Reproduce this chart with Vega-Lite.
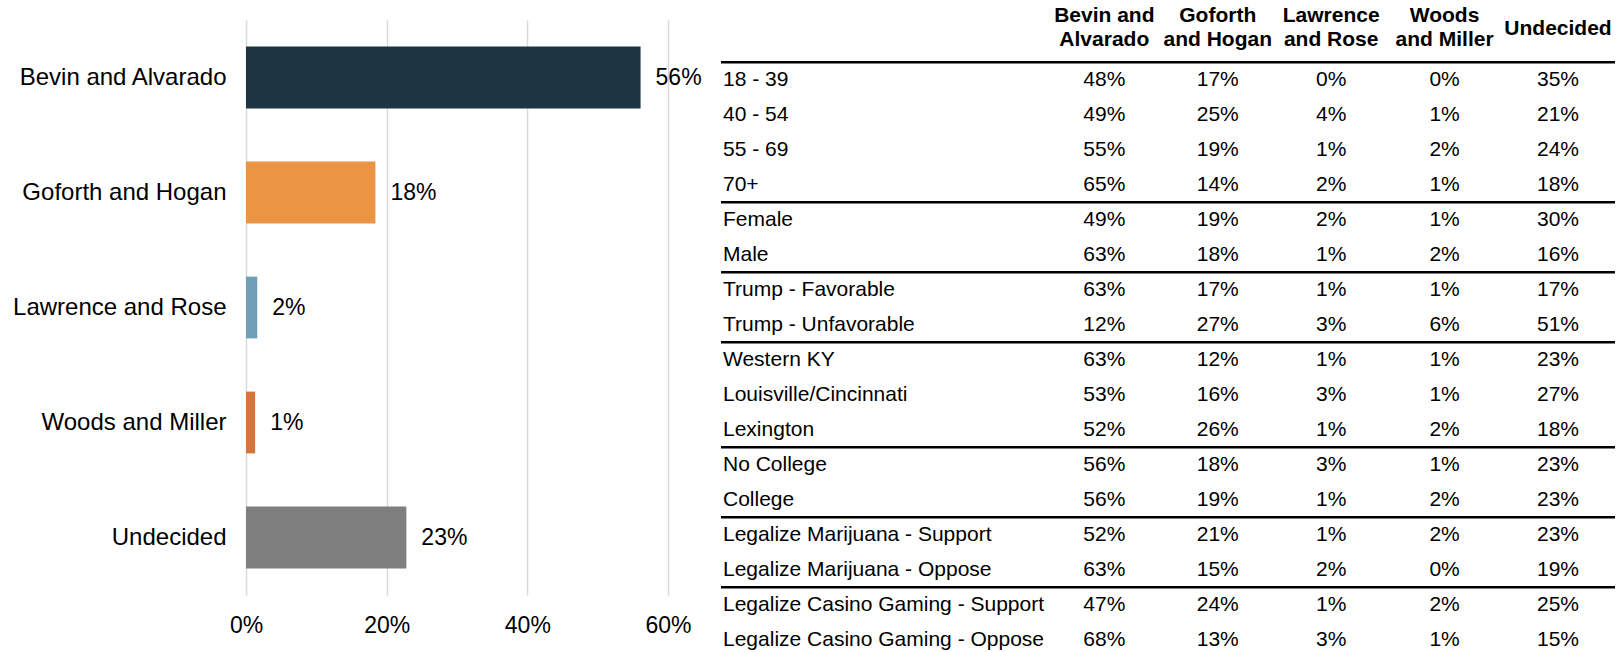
{
  "$schema": "https://vega.github.io/schema/vega-lite/v6.json",
  "padding": {"left": 12, "top": 5, "right": 0, "bottom": 0},
  "bounds": "flush",
  "spacing": 53,
  "background": "white",
  "config": {"view": {"stroke": null}, "font": "Liberation Sans"},
  "datasets": {
    "topline": [
      {"ticket": "Bevin and Alvarado", "share": 0.561},
      {"ticket": "Goforth and Hogan", "share": 0.184},
      {"ticket": "Lawrence and Rose", "share": 0.016},
      {"ticket": "Woods and Miller", "share": 0.013},
      {"ticket": "Undecided", "share": 0.228}
    ],
    "crosstab": [
      {"section": "Age", "row": "18 - 39", "Bevin and Alvarado": 0.48, "Goforth and Hogan": 0.17, "Lawrence and Rose": 0.00, "Woods and Miller": 0.00, "Undecided": 0.35},
      {"section": "Age", "row": "40 - 54", "Bevin and Alvarado": 0.49, "Goforth and Hogan": 0.25, "Lawrence and Rose": 0.04, "Woods and Miller": 0.01, "Undecided": 0.21},
      {"section": "Age", "row": "55 - 69", "Bevin and Alvarado": 0.55, "Goforth and Hogan": 0.19, "Lawrence and Rose": 0.01, "Woods and Miller": 0.02, "Undecided": 0.24},
      {"section": "Age", "row": "70+", "Bevin and Alvarado": 0.65, "Goforth and Hogan": 0.14, "Lawrence and Rose": 0.02, "Woods and Miller": 0.01, "Undecided": 0.18},
      {"section": "Gender", "row": "Female", "Bevin and Alvarado": 0.49, "Goforth and Hogan": 0.19, "Lawrence and Rose": 0.02, "Woods and Miller": 0.01, "Undecided": 0.30},
      {"section": "Gender", "row": "Male", "Bevin and Alvarado": 0.63, "Goforth and Hogan": 0.18, "Lawrence and Rose": 0.01, "Woods and Miller": 0.02, "Undecided": 0.16},
      {"section": "Trump", "row": "Trump - Favorable", "Bevin and Alvarado": 0.63, "Goforth and Hogan": 0.17, "Lawrence and Rose": 0.01, "Woods and Miller": 0.01, "Undecided": 0.17},
      {"section": "Trump", "row": "Trump - Unfavorable", "Bevin and Alvarado": 0.12, "Goforth and Hogan": 0.27, "Lawrence and Rose": 0.03, "Woods and Miller": 0.06, "Undecided": 0.51},
      {"section": "Region", "row": "Western KY", "Bevin and Alvarado": 0.63, "Goforth and Hogan": 0.12, "Lawrence and Rose": 0.01, "Woods and Miller": 0.01, "Undecided": 0.23},
      {"section": "Region", "row": "Louisville/Cincinnati", "Bevin and Alvarado": 0.53, "Goforth and Hogan": 0.16, "Lawrence and Rose": 0.03, "Woods and Miller": 0.01, "Undecided": 0.27},
      {"section": "Region", "row": "Lexington", "Bevin and Alvarado": 0.52, "Goforth and Hogan": 0.26, "Lawrence and Rose": 0.01, "Woods and Miller": 0.02, "Undecided": 0.18},
      {"section": "Education", "row": "No College", "Bevin and Alvarado": 0.56, "Goforth and Hogan": 0.18, "Lawrence and Rose": 0.03, "Woods and Miller": 0.01, "Undecided": 0.23},
      {"section": "Education", "row": "College", "Bevin and Alvarado": 0.56, "Goforth and Hogan": 0.19, "Lawrence and Rose": 0.01, "Woods and Miller": 0.02, "Undecided": 0.23},
      {"section": "Marijuana", "row": "Legalize Marijuana - Support", "Bevin and Alvarado": 0.52, "Goforth and Hogan": 0.21, "Lawrence and Rose": 0.01, "Woods and Miller": 0.02, "Undecided": 0.23},
      {"section": "Marijuana", "row": "Legalize Marijuana - Oppose", "Bevin and Alvarado": 0.63, "Goforth and Hogan": 0.15, "Lawrence and Rose": 0.02, "Woods and Miller": 0.00, "Undecided": 0.19},
      {"section": "Casino", "row": "Legalize Casino Gaming - Support", "Bevin and Alvarado": 0.47, "Goforth and Hogan": 0.24, "Lawrence and Rose": 0.01, "Woods and Miller": 0.02, "Undecided": 0.25},
      {"section": "Casino", "row": "Legalize Casino Gaming - Oppose", "Bevin and Alvarado": 0.68, "Goforth and Hogan": 0.13, "Lawrence and Rose": 0.03, "Woods and Miller": 0.01, "Undecided": 0.15}
    ],
    "headers": [
      {"col": "Bevin and Alvarado", "header": "Bevin and\nAlvarado"},
      {"col": "Goforth and Hogan", "header": "Goforth\nand Hogan"},
      {"col": "Lawrence and Rose", "header": "Lawrence\nand Rose"},
      {"col": "Woods and Miller", "header": "Woods\nand Miller"},
      {"col": "Undecided", "header": "Undecided"}
    ]
  },
  "hconcat": [
    {
      "width": 422,
      "height": 575,
      "data": {"name": "topline"},
      "layer": [
        {
          "mark": {"type": "bar"},
          "encoding": {
            "y": {
              "field": "ticket", "type": "nominal", "sort": null,
              "scale": {"paddingInner": 0.463, "paddingOuter": 0.2315},
              "axis": {"title": null, "ticks": false, "domain": false, "labelFontSize": 24, "labelColor": "#000000", "labelPadding": 20, "labelLimit": 400, "labelFont": "Liberation Sans"}
            },
            "x": {
              "field": "share", "type": "quantitative",
              "scale": {"domain": [0, 0.6], "nice": false, "zero": true},
              "axis": {"title": null, "format": ".0%", "values": [0, 0.2, 0.4, 0.6], "grid": true, "gridColor": "#d9d9d9", "gridWidth": 1.5, "ticks": false, "domain": false, "labelFontSize": 23, "labelColor": "#000000", "labelPadding": 19, "labelFlush": false, "labelFont": "Liberation Sans"}
            },
            "color": {
              "field": "ticket", "type": "nominal",
              "scale": {"domain": ["Bevin and Alvarado", "Goforth and Hogan", "Lawrence and Rose", "Woods and Miller", "Undecided"], "range": ["#1f3443", "#ea9444", "#6e9fb4", "#d4763a", "#7f7f7f"]},
              "legend": null
            }
          }
        },
        {
          "mark": {"type": "text", "align": "left", "baseline": "middle", "dx": 15, "fontSize": 23, "color": "#000000", "font": "Liberation Sans"},
          "encoding": {
            "y": {"field": "ticket", "type": "nominal", "sort": null},
            "x": {"field": "share", "type": "quantitative"},
            "text": {"field": "share", "type": "quantitative", "format": ".0%"}
          }
        }
      ]
    },
    {
      "width": 894,
      "height": 630,
      "layer": [
        {
          "data": {"name": "crosstab"},
          "transform": [
            {"window": [{"op": "row_number", "as": "rn"}], "groupby": ["section"]},
            {"filter": "datum.rn == 1"}
          ],
          "mark": {"type": "rule", "strokeWidth": 2.5, "color": "#000000", "yOffset": -16.5},
          "encoding": {
            "y": {
              "field": "row", "type": "nominal",
              "scale": {"type": "point", "domain": ["header", "18 - 39", "40 - 54", "55 - 69", "70+", "Female", "Male", "Trump - Favorable", "Trump - Unfavorable", "Western KY", "Louisville/Cincinnati", "Lexington", "No College", "College", "Legalize Marijuana - Support", "Legalize Marijuana - Oppose", "Legalize Casino Gaming - Support", "Legalize Casino Gaming - Oppose"], "padding": 0.5, "align": 0.68},
              "axis": null
            }
          }
        },
        {
          "data": {"name": "crosstab"},
          "mark": {"type": "text", "align": "left", "baseline": "middle", "dx": 2, "dy": 1, "fontSize": 21, "color": "#000000", "font": "Liberation Sans"},
          "encoding": {
            "x": {"datum": "rowlabels", "type": "nominal", "scale": {"type": "point", "padding": 0, "align": 0}, "axis": null},
            "y": {"field": "row", "type": "nominal", "axis": null},
            "text": {"field": "row", "type": "nominal"}
          }
        },
        {
          "data": {"name": "crosstab"},
          "transform": [
            {"fold": ["Bevin and Alvarado", "Goforth and Hogan", "Lawrence and Rose", "Woods and Miller", "Undecided"], "as": ["col", "pct"]}
          ],
          "mark": {"type": "text", "align": "center", "baseline": "middle", "dy": 1, "fontSize": 21, "color": "#000000", "font": "Liberation Sans"},
          "encoding": {
            "x": {"field": "col", "type": "nominal", "scale": {"type": "point", "domain": ["Bevin and Alvarado", "Goforth and Hogan", "Lawrence and Rose", "Woods and Miller", "Undecided"], "padding": 0, "range": [383.3, 837]}, "axis": null},
            "y": {"field": "row", "type": "nominal", "axis": null},
            "text": {"field": "pct", "type": "quantitative", "format": ".0%"}
          }
        },
        {
          "data": {"name": "headers"},
          "transform": [{"filter": "datum.col !== 'Undecided'"}],
          "mark": {"type": "text", "align": "center", "baseline": "middle", "dy": -27.4, "fontSize": 21, "fontWeight": "bold", "lineBreak": "\n", "lineHeight": 24, "color": "#000000", "font": "Liberation Sans"},
          "encoding": {
            "x": {"field": "col", "type": "nominal", "scale": {"type": "point", "domain": ["Bevin and Alvarado", "Goforth and Hogan", "Lawrence and Rose", "Woods and Miller", "Undecided"], "padding": 0, "range": [383.3, 837]}, "axis": null},
            "y": {"datum": "header", "type": "nominal", "axis": null},
            "text": {"field": "header", "type": "nominal"}
          }
        },
        {
          "data": {"name": "headers"},
          "transform": [{"filter": "datum.col === 'Undecided'"}],
          "mark": {"type": "text", "align": "center", "baseline": "middle", "dy": -14.9, "fontSize": 21, "fontWeight": "bold", "color": "#000000", "font": "Liberation Sans"},
          "encoding": {
            "x": {"field": "col", "type": "nominal", "scale": {"type": "point", "domain": ["Bevin and Alvarado", "Goforth and Hogan", "Lawrence and Rose", "Woods and Miller", "Undecided"], "padding": 0, "range": [383.3, 837]}, "axis": null},
            "y": {"datum": "header", "type": "nominal", "axis": null},
            "text": {"field": "header", "type": "nominal"}
          }
        }
      ],
      "resolve": {"scale": {"x": "independent"}}
    }
  ]
}
